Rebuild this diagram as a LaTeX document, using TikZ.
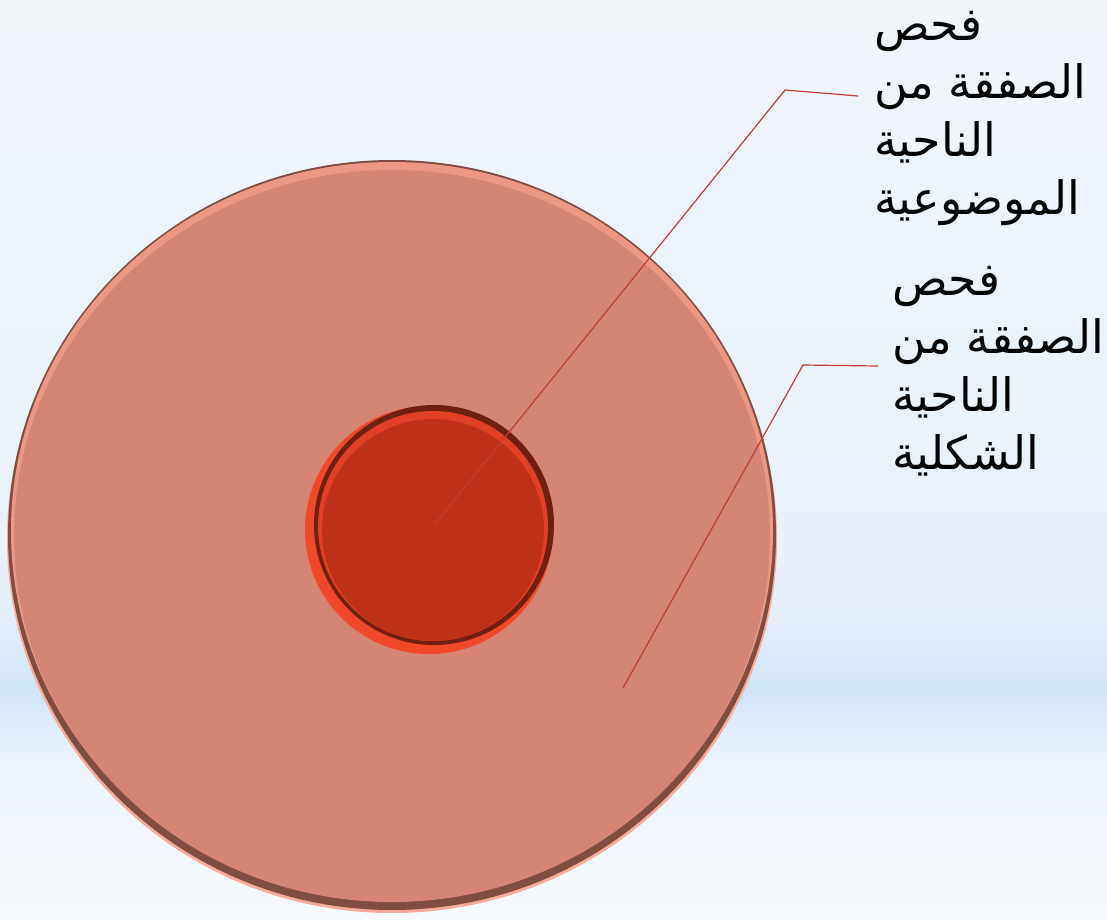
\documentclass[tikz,border=0pt]{standalone}
\usepackage{fontspec}
\newfontfamily\arabicfont[Script=Arabic]{DejaVu Sans}
\TeXXeTstate=1
\definecolor{bgtop}{RGB}{241,246,251}
\definecolor{bgmid}{RGB}{231,240,250}
\definecolor{bgband}{RGB}{208,228,247}
\definecolor{bglow}{RGB}{238,245,252}
\definecolor{bgbot}{RGB}{246,250,254}
\definecolor{discmain}{RGB}{212,133,115}
\definecolor{discdark}{RGB}{128,78,64}
\definecolor{disclight}{RGB}{236,152,132}
\definecolor{discouter}{RGB}{246,172,152}
\definecolor{coreglow}{RGB}{240,72,40}
\definecolor{coredark}{RGB}{112,32,16}
\definecolor{corelight}{RGB}{226,64,38}
\definecolor{coremain}{RGB}{190,48,26}
\definecolor{leader}{RGB}{192,62,50}
\tikzset{
  leaderline/.style={draw=leader, line width=1.2pt},
  label/.style={anchor=north west, inner sep=0pt, align=left, font=\arabicfont\fontsize{46}{58}\selectfont, text=black}
}
\begin{document}
\begin{tikzpicture}[x=1pt,y=-1pt]
\useasboundingbox (0,0) rectangle (1107,919);
% background
\shade[top color=bgtop, bottom color=bgmid] (0,0) rectangle (1107,600.5);
\shade[top color=bgmid, bottom color=bgband] (0,600) rectangle (1107,690.5);
\shade[top color=bgband, bottom color=bglow] (0,690) rectangle (1107,770.5);
\shade[top color=bglow, bottom color=bgbot] (0,770) rectangle (1107,919);
% outer disc
\fill[discouter] (392,539) ellipse [x radius=385, y radius=374];
\fill[discdark] (392,535) ellipse [x radius=384, y radius=375];
\fill[disclight] (392,531) ellipse [x radius=381, y radius=369];
\fill[discmain] (392,536) ellipse [x radius=378, y radius=366];
\node[circle, minimum size=2pt, inner sep=0pt] (disc) at (392,535) {};
% inner disc
\fill[coreglow] (429,530) circle [radius=124];
\fill[coredark] (434,525) circle [radius=120];
\fill[corelight] (433,526) circle [radius=115];
\fill[coremain] (433,530) circle [radius=111];
\node[circle, minimum size=2pt, inner sep=0pt] (core) at (433,527) {};
% labels
\node[label] (t1) at (874,11) {\beginR فحص\endR\\\beginR الصفقة من\endR\\\beginR الناحية\endR\\\beginR الموضوعية\endR};
\node[label] (t2) at (892,266) {\beginR فحص\endR\\\beginR الصفقة من\endR\\\beginR الناحية\endR\\\beginR الشكلية\endR};
% leader lines
\coordinate (s1) at (435,524);
\coordinate (k1) at (785,90);
\coordinate (e1) at (858,96);
\coordinate (s2) at (623,688);
\coordinate (k2) at (803,365);
\coordinate (e2) at (878,366);
\draw[leaderline] (s1) -- (k1) -- (e1);
\draw[leaderline] (s2) -- (k2) -- (e2);
\end{tikzpicture}
\end{document}
